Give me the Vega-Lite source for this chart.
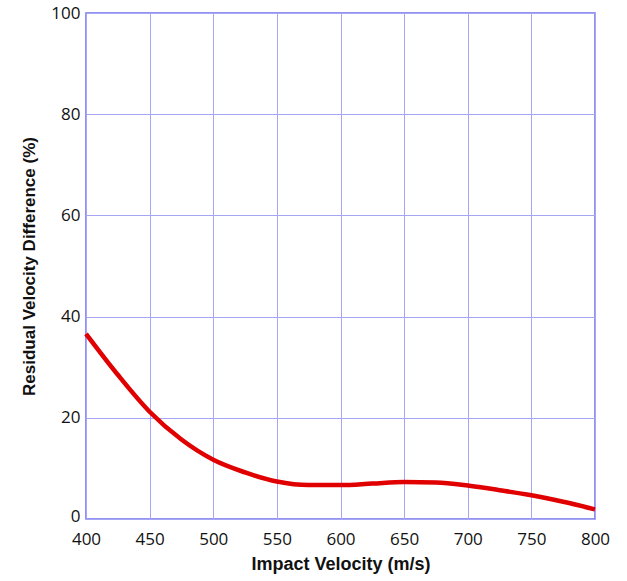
{
  "$schema": "https://vega.github.io/schema/vega-lite/v6.json",
  "width": 509,
  "height": 506,
  "autosize": {"type": "none"},
  "padding": {"left": 86, "top": 13, "right": 32, "bottom": 62},
  "background": "white",
  "config": {
    "view": {"stroke": "#6f6ff0", "strokeWidth": 1.5},
    "axis": {
      "grid": true,
      "gridColor": "#a6a6f5",
      "gridWidth": 1,
      "domain": false,
      "ticks": false,
      "labelFont": "Open Sans",
      "labelFontSize": 17,
      "labelColor": "#111111",
      "titleFont": "Liberation Sans",
      "titleFontWeight": "bold",
      "titleColor": "#111111"
    }
  },
  "data": {
    "values": [
      {"v": 400, "d": 36.6},
      {"v": 425, "d": 28.5},
      {"v": 450, "d": 21.2},
      {"v": 475, "d": 15.7},
      {"v": 500, "d": 11.7},
      {"v": 525, "d": 9.2},
      {"v": 550, "d": 7.4},
      {"v": 575, "d": 6.7},
      {"v": 600, "d": 6.7},
      {"v": 625, "d": 7.0},
      {"v": 650, "d": 7.3},
      {"v": 675, "d": 7.2},
      {"v": 700, "d": 6.6},
      {"v": 725, "d": 5.7},
      {"v": 750, "d": 4.7},
      {"v": 775, "d": 3.4},
      {"v": 800, "d": 1.9}
    ]
  },
  "mark": {"type": "line", "color": "#e00000", "strokeWidth": 4.5, "interpolate": "monotone"},
  "encoding": {
    "x": {
      "field": "v",
      "type": "quantitative",
      "scale": {"domain": [400, 800], "nice": false, "zero": false},
      "axis": {"values": [400, 450, 500, 550, 600, 650, 700, 750, 800], "labelPadding": 12, "title": "Impact Velocity (m/s)", "titleFontSize": 18, "titlePadding": 8, "labelFlush": false}
    },
    "y": {
      "field": "d",
      "type": "quantitative",
      "scale": {"domain": [0, 100], "nice": false},
      "axis": {
        "values": [0, 20, 40, 60, 80, 100],
        "labelPadding": 6,
        "labelOffset": {"condition": {"test": "datum.value === 0", "value": -3}, "value": 0},
        "title": "Residual Velocity Difference (%)",
        "titleFontSize": 17,
        "titlePadding": 12,
        "labelFlush": false
      }
    }
  }
}
